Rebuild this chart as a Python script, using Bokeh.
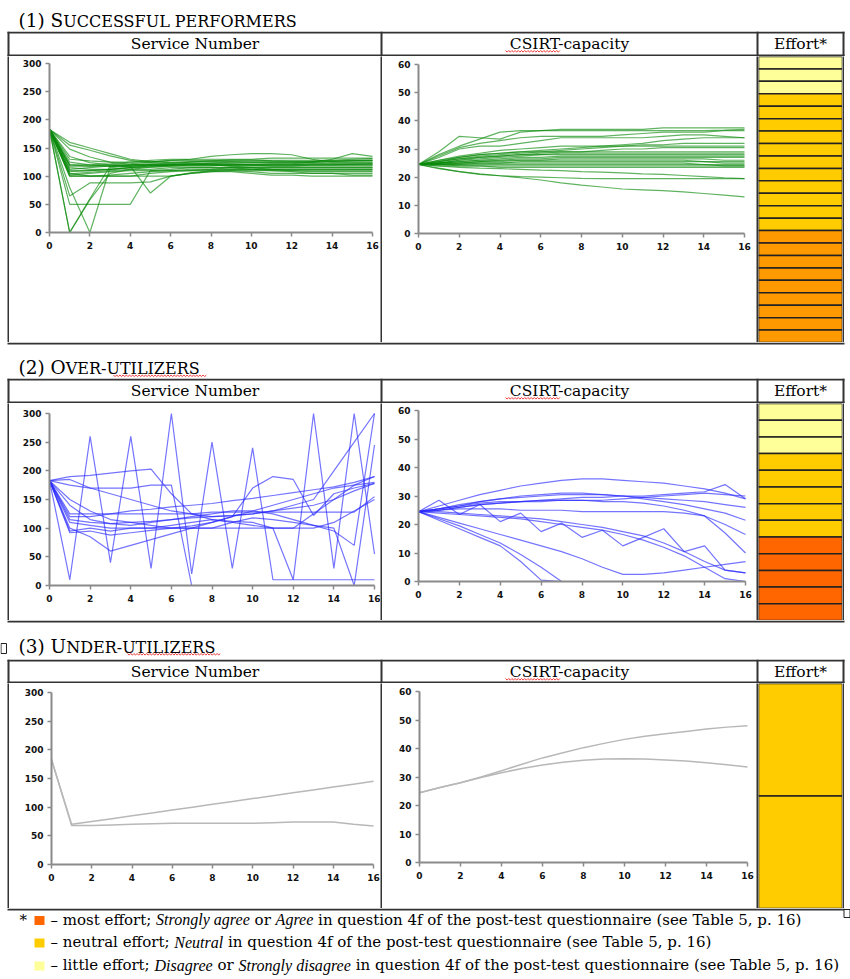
import glob
import os
from bokeh.plotting import figure
from bokeh.layouts import column, row
from bokeh.models import Range1d, Spacer, FixedTicker, LinearAxis
from bokeh.embed import file_html
from bokeh.resources import INLINE
from bokeh.core.properties import value
from bokeh.core.validation import silence
from bokeh.core.validation.warnings import MISSING_RENDERERS

silence(MISSING_RENDERERS, True)
nan = float("nan")

# ---------------------------------------------------------------- data
steps = list(range(17))
step_ticks = [0, 2, 4, 6, 8, 10, 12, 14, 16]
service_ticks = [0, 50, 100, 150, 200, 250, 300]
capacity_ticks = [0, 10, 20, 30, 40, 50, 60]
column_titles = ["Service Number", "CSIRT-capacity", "Effort*"]

succ_service = [
    [183, 160, 150, 140, 130, 126, 124, 122, 121, 120, 120, 120, 120, 120, 120, 121, 122],
    [183, 155, 146, 136, 128, 125, 125, 126, 126, 126, 125, 125, 125, 125, 126, 127, 128],
    [183, 148, 134, 125, 121, 121, 123, 125, 127, 129, 129, 127, 126, 126, 128, 130, 131],
    [183, 135, 124, 120, 118, 119, 120, 121, 123, 125, 125, 125, 125, 125, 126, 128, 128],
    [183, 125, 120, 118, 118, 120, 120, 122, 122, 122, 120, 118, 118, 120, 120, 120, 120],
    [183, 115, 112, 112, 115, 118, 120, 120, 120, 118, 118, 118, 118, 118, 118, 118, 118],
    [183, 110, 110, 112, 115, 116, 118, 118, 118, 120, 120, 120, 120, 122, 122, 122, 122],
    [183, 105, 100, 100, 100, 105, 108, 110, 112, 115, 115, 115, 115, 115, 115, 115, 115],
    [183, 100, 100, 102, 105, 108, 110, 112, 112, 112, 112, 112, 112, 112, 112, 112, 112],
    [183, 100, 100, 100, 100, 100, 100, 105, 108, 108, 105, 102, 102, 100, 100, 100, 100],
    [183, 65, 88, 88, 88, 90, 100, 105, 108, 110, 110, 110, 108, 105, 105, 105, 105],
    [183, 50, 50, 50, 50, 110, 112, 115, 115, 115, 112, 110, 110, 110, 110, 110, 110],
    [183, 0, 60, 118, 120, 122, 122, 125, 125, 125, 125, 125, 125, 125, 125, 125, 125],
    [183, 0, 58, 105, 112, 116, 118, 120, 120, 120, 120, 120, 120, 120, 120, 120, 120],
    [183, 80, 0, 115, 118, 120, 120, 122, 122, 122, 122, 122, 122, 122, 122, 122, 122],
    [183, 120, 118, 118, 118, 70, 100, 106, 110, 112, 112, 112, 112, 112, 112, 112, 112],
    [183, 118, 118, 120, 122, 125, 128, 130, 135, 138, 140, 140, 138, 130, 125, 125, 125],
    [183, 112, 115, 118, 120, 120, 120, 120, 120, 120, 120, 122, 122, 125, 130, 140, 135],
    [183, 108, 110, 112, 115, 118, 120, 120, 120, 118, 115, 112, 110, 108, 108, 108, 108],
    [183, 104, 107, 110, 112, 112, 115, 115, 115, 115, 115, 115, 115, 115, 115, 115, 115],
    [183, 102, 105, 108, 110, 110, 110, 110, 110, 110, 108, 105, 105, 105, 105, 102, 102],
    [183, 120, 120, 122, 125, 125, 128, 128, 128, 128, 128, 128, 128, 128, 128, 128, 128],
    [183, 130, 127, 125, 125, 128, 130, 130, 130, 130, 130, 132, 132, 132, 132, 132, 132],
]
succ_capacity = [
    [24.5, 29, 34.5, 34, 33.5, 36, 36.5, 37, 37, 37, 37, 37, 37.5, 37.5, 37.5, 37.5, 37.5],
    [24.5, 28, 31, 33.5, 36, 36.5, 36.5, 36.5, 36.5, 36.5, 36.5, 36.5, 36.5, 36.5, 36.5, 36.7, 37],
    [24.5, 27, 30, 31, 31, 32, 33, 34, 34, 34, 34, 34, 34.5, 35, 35, 34.5, 34],
    [24.5, 27.5, 30.5, 32, 33, 34, 34.5, 34.5, 34.5, 34.5, 35, 35.5, 36, 36, 36, 36.5, 36.5],
    [24.5, 26, 27.5, 28.5, 29.5, 30, 30.5, 31, 31, 31, 31, 31, 31, 31, 31, 31, 31],
    [24.5, 26, 27, 28, 28.5, 29, 29.5, 30, 30.5, 31, 31.5, 32, 33, 33.5, 34, 34, 34],
    [24.5, 25.5, 26.5, 27, 27.5, 28, 28, 28.5, 28.5, 28.5, 28.5, 28.5, 28.5, 28.5, 28.5, 28.5, 28.5],
    [24.5, 25, 26, 26.5, 27, 27.5, 28, 28, 28, 28, 28, 28, 28, 28, 28, 28, 28],
    [24.5, 25, 25.5, 26, 26.5, 27, 27, 27.5, 27.5, 27.5, 27.5, 27.5, 27.5, 27.5, 27.5, 27.5, 27.5],
    [24.5, 25, 25.5, 26, 26, 26.5, 26.5, 27, 27, 27, 27, 27, 27, 27, 27, 27, 27],
    [24.5, 25, 25, 25.5, 26, 26, 26, 26.5, 26.5, 26.5, 26.5, 26.5, 26.5, 26.5, 26.5, 26, 26],
    [24.5, 24.8, 25, 25.5, 25.5, 26, 26, 26, 26, 26, 26, 26, 26, 26, 25.5, 25.5, 25.5],
    [24.5, 24.5, 25, 25, 25, 25.5, 25.5, 25.5, 25.5, 25.5, 25.5, 25.5, 25.5, 25.5, 25.5, 25, 25],
    [24.5, 24.5, 24.5, 25, 25, 25, 25, 25, 25, 25, 25, 25, 25, 25, 24.5, 24.5, 24.5],
    [24.5, 24.5, 24.5, 24.5, 24.5, 24.5, 24.5, 24.5, 24.5, 24.5, 24.5, 24.5, 24.5, 24.5, 24.5, 24, 24],
    [24.5, 24, 24, 24, 24, 24, 24, 24, 24, 24, 24, 24, 24, 24, 24, 24, 24],
    [24.5, 25, 26, 27, 27.5, 28, 28.5, 29, 29, 29.5, 30, 30, 30.5, 30.5, 30.5, 30.5, 30.5],
    [24.5, 25.5, 27, 28, 28.5, 29, 29, 29, 29, 29, 29, 29, 29, 29, 29, 29, 29],
    [24.5, 24, 23.5, 23.2, 23, 22.8, 22.5, 22.3, 22, 21.8, 21.5, 21.2, 21, 20.6, 20.2, 19.8, 19.5],
    [24.5, 23.2, 22, 21.2, 20.5, 20.2, 20, 19.8, 19.6, 19.5, 19.5, 19.5, 19.5, 19.5, 19.5, 19.5, 19.5],
    [24.5, 23, 22, 21, 20.5, 19.8, 19, 18, 17.2, 16.5, 15.8, 15.5, 15.2, 14.8, 14.2, 13.6, 13],
    [24.5, 25.5, 26.5, 27.5, 28, 28.5, 29, 29.5, 30, 30.5, 31, 31.5, 31.5, 32, 32, 32, 32],
    [24.5, 24.5, 24, 24, 23.5, 23.5, 23.5, 23.5, 23.5, 23.5, 23.5, 23.5, 23.5, 23.5, 23.5, 23.5, 23.5],
]
succ_effort = ["little", "little", "little",
               "neutral", "neutral", "neutral", "neutral", "neutral", "neutral",
               "neutral", "neutral", "neutral", "neutral", "neutral",
               "most", "most", "most", "most", "most", "most", "most", "most", "most"]

over_service = [
    [183, 10, 260, 40, 260, 30, 300, 20, 250, 30, 240, 10, 10, 10, 10, 10, 10],
    [183, 95, 100, 95, 100, 100, 105, 110, 115, 112, 110, 100, 10, 300, 30, 300, 55],
    [183, 190, 192, 196, 200, 203, 160, 125, 115, 110, 105, 100, 100, 100, 110, 130, 150],
    [183, 185, 170, 170, 170, 175, 175, 0, nan, nan, nan, nan, nan, nan, nan, nan, nan],
    [183, 125, 125, 125, 125, 125, 125, 125, 128, 128, 128, 128, 128, 128, 128, 128, 155],
    [183, 110, 105, 100, 100, 100, 100, 100, 100, 100, 100, 100, 100, 125, 150, 175, 190],
    [183, 100, 85, 60, 70, 80, 90, 100, 110, 120, 130, 140, 150, 160, 170, 175, 180],
    [183, 92, 95, 88, 92, 96, 100, 104, 110, 120, 170, 190, 185, 122, 160, 170, 178],
    [183, 140, 115, 108, 105, 110, 115, 120, 125, 130, 130, 125, 115, 105, 95, 70, 300],
    [183, 120, 120, 125, 130, 133, 137, 140, 143, 148, 152, 157, 162, 167, 172, 180, 190],
    [183, 115, 110, 108, 110, 112, 115, 118, 120, 122, 125, 130, 135, 140, 150, 165, 178],
    [183, 175, 170, 160, 150, 140, 130, 125, 120, 122, 125, 130, 140, 150, 200, 250, 300],
    [183, 150, 130, 115, 110, 105, 100, 100, 100, 110, 118, 115, 110, 105, 100, 0, 245],
]
over_capacity = [
    [24.5, 26.5, 28.5, 30.5, 32, 33.5, 34.5, 35.5, 36, 36, 35.5, 35, 34.5, 33.5, 32.5, 31, 29],
    [24.5, 28.5, 23.5, 27, 21, 24, 17.5, 20.5, 15.5, 18, 12.5, 15.5, 18.5, 10.5, 12.5, 4, 3],
    [24.5, 25, 26, 27, 27.5, 28, 28.5, 29, 29.5, 29.5, 30, 30, 30.5, 31, 31.5, 34, 29],
    [24.5, 25.5, 26.5, 28, 29, 30, 30.5, 31, 31, 30.5, 30, 29.5, 29, 28.5, 28, 27, 26],
    [24.5, 25.5, 27, 28, 29, 29.5, 30, 30.5, 30.5, 30.5, 30, 29, 28, 27, 25.5, 24, 21.5],
    [24.5, 25.5, 26.5, 27.5, 28, 28, 28.5, 28.5, 28.5, 28, 28, 27.5, 26.5, 25, 23, 20, 16.5],
    [24.5, 25, 25.5, 25.5, 25.5, 25, 25, 25, 24.5, 24.5, 24.5, 24.5, 24.5, 24, 23, 17, 10],
    [24.5, 24.5, 24, 23.5, 23, 22.5, 22, 21, 20, 19, 17.5, 16, 13.5, 10.5, 7, 4, 3],
    [24.5, 24, 23.5, 23, 22.5, 22, 21, 20, 19, 18, 16.5, 14.5, 12, 9, 5, 1, 0],
    [24.5, 22, 19.5, 16.5, 13.5, 9.5, 5, 0, nan, nan, nan, nan, nan, nan, nan, nan, nan],
    [24.5, 21.5, 18.5, 15.5, 12.5, 7, 0.5, 0, nan, nan, nan, nan, nan, nan, nan, nan, nan],
    [24.5, 22.5, 20.5, 18.5, 16.5, 14.5, 12.5, 10.5, 8, 5, 2.5, 2.5, 3, 4, 5, 6, 7],
    [24.5, 25, 26, 27, 27.5, 28, 28, 28.5, 28.5, 28.5, 29, 29.5, 30, 30.5, 31, 30.5, 30],
]
over_effort = ["little", "little", "little",
               "neutral", "neutral", "neutral", "neutral", "neutral",
               "most", "most", "most", "most", "most"]

under_service = [
    [183, 70, 75, 80, 85, 90, 95, 100, 105, 110, 115, 120, 125, 130, 135, 140, 145],
    [183, 68, 68, 69, 70, 71, 72, 72, 72, 72, 72, 73, 74, 74, 74, 70, 67],
]
under_capacity = [
    [24.5, 26.3, 28, 30, 32.2, 34.5, 36.7, 38.5, 40.3, 41.8, 43.2, 44.3, 45.2, 46, 46.8, 47.5, 48],
    [24.5, 26.3, 28, 29.8, 31.5, 33, 34.2, 35.2, 35.9, 36.3, 36.4, 36.3, 36, 35.6, 35, 34.3, 33.5],
]
under_effort = ["neutral", "neutral"]

note_most = [("– most effort; ", "normal"), ("Strongly agree", "italic"), (" or ", "normal"),
             ("Agree", "italic"),
             (" in question 4f of the post-test questionnaire (see Table 5, p. 16)", "normal")]
note_neutral = [("– neutral effort; ", "normal"), ("Neutral", "italic"),
                (" in question 4f of the post-test questionnaire (see Table 5, p. 16)", "normal")]
note_little = [("– little effort; ", "normal"), ("Disagree", "italic"), (" or ", "normal"),
               ("Strongly disagree", "italic"),
               (" in question 4f of the post-test questionnaire (see Table 5, p. 16)", "normal")]

# ---------------------------------------------------------------- styles
SUCC_PALETTE = {"little": "#FFFF99", "neutral": "#FFCC00", "most": "#FF9900"}
OVER_PALETTE = {"little": "#FFFF99", "neutral": "#FFCC00", "most": "#FF6600"}
LINE = "#333333"
SERIF = "DejaVu Serif"
FONT_OF = {"normal": "DejaVu Serif", "italic": "Liberation Serif"}
SIZE_OF = {"normal": 1.0, "italic": 1.07}
VX = [7, 380, 756, 842]  # vertical table rules (2px each)
BASE_SHIFT = 0.28        # baseline correction (fraction of font size)

# ---------------------------------------------------------------- text measuring
FONT_FILES = {"normal": ["DejaVuSerif.ttf"],
              "italic": ["LiberationSerif-Italic.ttf", "DejaVuSerif-Italic.ttf", "DejaVuSerif.ttf"]}
_fonts = {}


def _find(name):
    for root in ["/usr/share/fonts", "/usr/local/share/fonts",
                 os.path.expanduser("~/.fonts"), os.path.expanduser("~/.local/share/fonts")]:
        hits = glob.glob(os.path.join(root, "**", name), recursive=True)
        if hits:
            return hits[0]
    return None


def measure(txt, style, size):
    try:
        from PIL import ImageFont
        if style not in _fonts:
            path = None
            for n in FONT_FILES[style]:
                path = _find(n)
                if path:
                    break
            _fonts[style] = ImageFont.truetype(path, 100) if path else None
        f = _fonts[style]
        if f is not None:
            return f.getlength(txt) * size / 100.0
    except Exception:
        pass
    return len(txt) * (0.58 if style == "normal" else 0.45) * size


def runs(p, items, x, y):
    for txt, style, size in items:
        fsize = size * SIZE_OF[style]
        lead = len(txt) - len(txt.lstrip())
        xs = x + measure(txt[:lead], style, fsize)
        p.text(x=[xs], y=[y - BASE_SHIFT * size], text=[txt.strip()], text_font=value(FONT_OF[style]),
               text_font_size=f"{fsize:.2f}px", text_font_style=style,
               text_baseline="alphabetic", text_align="left", text_color="black")
        x += measure(txt, style, fsize)
    return x


# ---------------------------------------------------------------- builders
def page_fig(y0, y1, w=850):
    p = figure(width=w, height=y1 - y0, x_range=Range1d(0, w), y_range=Range1d(y1, y0),
               toolbar_location=None, output_backend="svg", min_border=0,
               x_axis_location=None, y_axis_location=None, outline_line_color=None,
               background_fill_color="white", border_fill_color="white")
    p.grid.visible = False
    return p


def squiggle(p, x0, x1, y):
    xs, ys, k, x = [], [], 0, x0
    while x <= x1:
        xs.append(x)
        ys.append(y + (1.6 if k % 2 else 0))
        x += 1.6
        k += 1
    p.line(xs, ys, line_color="#ee2222", line_width=0.9)


def title_fig(y0, y1, baseline, big, small, prev_bottom=True, squig=None, anchor=False):
    p = page_fig(y0, y1)
    if prev_bottom:
        p.quad(left=[VX[0]], right=[VX[-1] + 2], top=[y0], bottom=[y0 + 2], fill_color=LINE, line_color=None)
    x = runs(p, [(big, "normal", 18.5)], 18, baseline)
    runs(p, [(small, "normal", 16)], x, baseline)
    if squig:
        squiggle(p, squig[0], squig[1], baseline + 2)
    if anchor:
        p.quad(left=[0.5], right=[6], top=[baseline - 8], bottom=[baseline + 2],
               fill_color="white", line_color="#222", line_width=1)
    return p


def header_fig(y0, y1):
    p = page_fig(y0, y1)
    p.quad(left=[VX[0]], right=[VX[-1] + 2], top=[y0], bottom=[y0 + 2], fill_color=LINE, line_color=None)
    p.quad(left=[VX[0]], right=[VX[-1] + 2], top=[y1 - 2], bottom=[y1], fill_color=LINE, line_color=None)
    p.quad(left=VX, right=[v + 2 for v in VX], top=[y0] * 4, bottom=[y1] * 4, fill_color=LINE, line_color=None)
    centers = [(VX[i] + 2 + VX[i + 1]) / 2 for i in range(3)]
    p.text(x=centers, y=[y0 + 17 - BASE_SHIFT * 15.5] * 3, text=column_titles, text_font=value(SERIF),
           text_font_size="15.5px", text_align="center", text_baseline="alphabetic", text_color="black")
    squiggle(p, 505, 561, y0 + 19)
    return p


def vline(h):
    p = figure(width=2, height=h, toolbar_location=None, output_backend="svg", min_border=0,
               x_axis_location=None, y_axis_location=None, outline_line_color=None,
               background_fill_color=LINE, border_fill_color=LINE)
    p.grid.visible = False
    return p


def chart(series, y_end, y_ticks, color, alpha, lw, w, h, left, right, top, bottom):
    sx = 16.0 / (w - left - right)
    sy = y_end / float(h - top - bottom)
    p = figure(width=w, height=h,
               x_range=Range1d(-left * sx, 16 + right * sx),
               y_range=Range1d(-bottom * sy, y_end + top * sy),
               toolbar_location=None, output_backend="svg", min_border=0,
               x_axis_location=None, y_axis_location=None,
               outline_line_color=None, background_fill_color="white", border_fill_color="white")
    for s in series:
        p.line(steps, s, line_color=color, line_alpha=alpha, line_width=lw)
    p.grid.visible = False
    xa = LinearAxis(fixed_location=0, bounds=(0, 16), ticker=FixedTicker(ticks=step_ticks))
    ya = LinearAxis(fixed_location=0, bounds=(0, y_end), ticker=FixedTicker(ticks=y_ticks))
    for ax in (xa, ya):
        ax.axis_line_color = "#8a8a8a"
        ax.axis_line_width = 2
        ax.major_tick_line_color = "#8a8a8a"
        ax.major_tick_line_width = 1.5
        ax.major_tick_in = 0
        ax.major_tick_out = 4
        ax.minor_tick_line_color = None
        ax.major_label_text_font = "DejaVu Sans"
        ax.major_label_text_font_style = "bold"
        ax.major_label_text_font_size = "9px"
        ax.major_label_text_color = "#111111"
    xa.major_label_standoff = 5
    ya.major_label_standoff = 4
    p.add_layout(xa, "below")
    p.add_layout(ya, "left")
    return p


def effort_fig(levels, palette, w, h):
    n = len(levels)
    p = figure(width=w, height=h, x_range=Range1d(0, 1), y_range=Range1d(n, 0),
               toolbar_location=None, output_backend="svg", min_border=0,
               x_axis_location=None, y_axis_location=None, outline_line_color=None,
               background_fill_color="white", border_fill_color="white")
    p.grid.visible = False
    p.quad(left=0, right=1, top=list(range(n)), bottom=list(range(1, n + 1)),
           fill_color=[palette[l] for l in levels], line_color="#222222", line_width=1.5)
    return p


def body_row(h, a, b, eff):
    return row(Spacer(width=7, height=h), vline(h), a, vline(h), b, vline(h), eff, vline(h),
               Spacer(width=6, height=h))


GREEN, BLUE, GREY = "#0a8a0a", "#2a2aff", "#b8b8b8"

# section 1
t1 = title_fig(0, 31, 25, "(1) S", "UCCESSFUL PERFORMERS", prev_bottom=False)
h1 = header_fig(31, 56)
b1 = body_row(286,
              chart(succ_service, 300, service_ticks, GREEN, 0.65, 1.2, 371, 286, 40, 8, 7, 110),
              chart(succ_capacity, 60, capacity_ticks, GREEN, 0.65, 1.2, 374, 286, 36, 12, 8, 109),
              effort_fig(succ_effort, SUCC_PALETTE, 84, 286))
# section 2
t2 = title_fig(342, 378, 372.5, "(2) O", "VER-UTILIZERS", squig=(113, 207))
h2 = header_fig(378, 403)
b2 = body_row(217,
              chart(over_service, 300, service_ticks, BLUE, 0.65, 1.2, 371, 217, 40, 6, 10, 35),
              chart(over_capacity, 60, capacity_ticks, BLUE, 0.65, 1.2, 374, 217, 36, 11, 7, 39),
              effort_fig(over_effort, OVER_PALETTE, 84, 217))
# section 3
t3 = title_fig(620, 659, 651, "(3) U", "NDER-UTILIZERS", squig=(127, 220), anchor=True)
h3 = header_fig(659, 683)
b3 = body_row(225,
              chart(under_service, 300, service_ticks, GREY, 1.0, 1.5, 371, 225, 42, 7, 9, 44),
              chart(under_capacity, 60, capacity_ticks, GREY, 1.0, 1.5, 374, 225, 37, 9, 8, 46),
              effort_fig(under_effort, OVER_PALETTE, 84, 225))

# footnotes
fn = page_fig(908, 979)
fn.quad(left=[VX[0]], right=[VX[-1] + 2], top=[908], bottom=[910], fill_color=LINE, line_color=None)
fn.quad(left=[843.5], right=[849.5], top=[909], bottom=[917], fill_color="white", line_color="#222", line_width=1)
fn.text(x=[19], y=[923.5 - BASE_SHIFT * 15], text=["*"], text_font=value(SERIF), text_font_size="15px",
        text_baseline="alphabetic", text_color="black")
legend_levels = ["most", "neutral", "little"]
baselines = [923.5, 946, 969]
fn.quad(left=[34] * 3, right=[44] * 3, top=[b - 8 for b in baselines], bottom=[b + 1 for b in baselines],
        fill_color=[OVER_PALETTE[l] for l in legend_levels], line_color=None)
for note, base in zip([note_most, note_neutral, note_little], baselines):
    runs(fn, [(t, s, 15) for t, s in note], 50, base)

page = column(t1, h1, b1, t2, h2, b2, t3, h3, b3, fn)

open("out.html", "w").write(file_html(page, INLINE))
